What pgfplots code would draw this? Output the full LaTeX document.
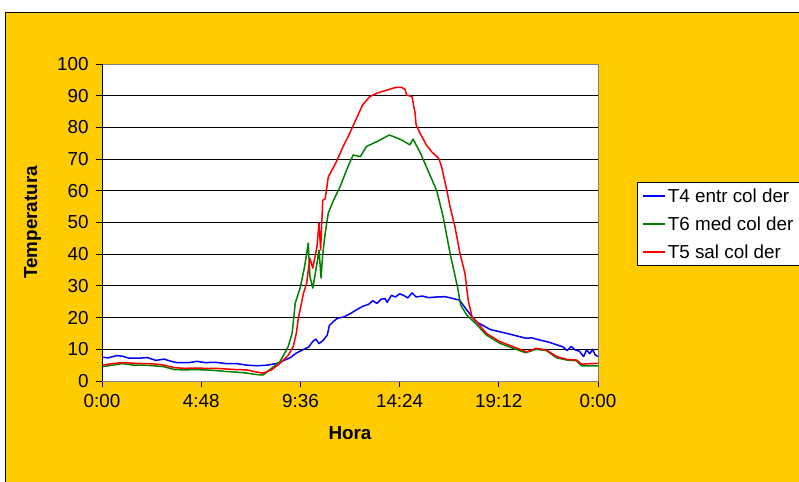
\documentclass[border=0pt]{standalone}
\usepackage{fontspec}
\setmainfont{Liberation Sans}
\usepackage{pgfplots}
\pgfplotsset{compat=1.18}
\definecolor{bgor}{RGB}{255,204,0}
\definecolor{xlblue}{RGB}{0,0,255}
\definecolor{xlgreen}{RGB}{0,128,0}
\definecolor{xlred}{RGB}{255,0,0}
\begin{document}
\begin{tikzpicture}[x=1bp,y=1bp]
\clip (0,0) rectangle (799,482);
\fill[white] (0,0) rectangle (799,482);
\fill[bgor] (5.5,0) rectangle (799,469.5);
\draw[black,line width=1.2bp] (5.5,-2) -- (5.5,469.5) -- (801,469.5);
\begin{axis}[
  at={(102bp,101bp)}, anchor=south west,
  width=496bp, height=317bp, scale only axis,
  xmin=0, xmax=24, ymin=0, ymax=100,
  xtick={0,4.8,9.6,14.4,19.2,24},
  xticklabels={0:00,4:48,9:36,14:24,19:12,0:00},
  ytick={0,10,...,100},
  yticklabel={\pgfmathprintnumber[assume math mode=true]{\tick}},
  tick align=outside, tick pos=left,
  major tick length=6bp,
  every tick/.style={black,line width=0.8bp},
  ymajorgrids, major grid style={black,line width=0.9bp},
  axis line style={draw=gray,line width=0.9bp},
  axis background/.style={fill=white},
  /pgf/number format/assume math mode=true,
  tick label style={font=\fontsize{18.9}{22}\selectfont},
  xticklabel style={yshift=-4bp},
  yticklabel style={xshift=-4bp},
  xlabel={Hora}, ylabel={Temperatura},
  every axis x label/.style={at={(axis description cs:0.5,-0.164)},anchor=center,font=\fontsize{18.9}{22}\selectfont\bfseries},
  every axis y label/.style={at={(axis description cs:-0.140,0.5)},rotate=90,anchor=center,font=\fontsize{18.9}{22}\selectfont\bfseries},
  legend style={at={(axis description cs:1.0786,0.6278)}, anchor=north west,
    draw=black, line width=0.8bp, fill=white, font=\fontsize{18.9}{22}\selectfont,
    inner xsep=5bp, inner ysep=4bp, row sep=9bp},
  legend cell align=left,
  legend image code/.code={\draw[#1,line width=1.5bp] (0bp,0bp) -- (22bp,0bp);},
  every axis plot/.append style={line width=1.5bp, line join=round},
]
\addplot[xlblue] coordinates {
(0,7.5)(0.3,7.3)(0.7,8.0)(1.0,7.8)(1.3,7.2)(1.8,7.2)(2.2,7.4)(2.6,6.5)(3.0,6.9)(3.3,6.3)
(3.6,5.8)(4.2,5.8)(4.6,6.2)(5.0,5.8)(5.5,5.9)(6.0,5.5)(6.5,5.5)(7.0,5.0)(7.5,4.8)(8.0,5.0)
(8.5,5.6)(8.8,6.5)(9.1,7.3)(9.4,8.8)(9.7,9.8)(10.0,10.7)(10.2,12.5)(10.35,13.2)(10.5,11.8)(10.7,12.8)
(10.9,14.5)(11.0,17.5)(11.2,18.8)(11.4,19.8)(11.7,20.2)(12.0,21.2)(12.3,22.4)(12.6,23.5)(12.9,24.2)(13.1,25.3)
(13.3,24.5)(13.5,25.8)(13.7,26.0)(13.8,24.8)(14.0,27.0)(14.2,26.5)(14.4,27.5)(14.6,27.0)(14.8,26.2)(15.0,27.8)
(15.2,26.5)(15.5,26.8)(15.8,26.3)(16.2,26.5)(16.6,26.6)(17.0,26.0)(17.3,25.5)(17.65,22.4)(18.1,18.7)(18.8,16.2)
(19.6,15.0)(20.2,14.0)(20.5,13.5)(20.8,13.6)(21.2,12.9)(21.6,12.3)(22.0,11.4)(22.3,10.8)(22.5,9.6)(22.7,10.9)
(22.9,9.8)(23.1,9.4)(23.3,7.7)(23.45,9.8)(23.6,8.6)(23.75,10.0)(23.85,8.3)(24.0,7.7)
};
\addlegendentry{T4 entr col der}
\addplot[xlgreen] coordinates {
(0,4.5)(0.5,5.0)(1.0,5.5)(1.5,5.0)(2.0,5.0)(2.5,4.8)(3.0,4.5)(3.5,3.6)(4.0,3.5)(4.5,3.6)
(5.0,3.5)(5.5,3.3)(6.0,3.0)(6.5,2.8)(7.0,2.5)(7.5,2.0)(7.8,1.9)(8.1,3.5)(8.6,6.0)(9.0,10.7)
(9.2,15.0)(9.35,24.5)(9.6,29.7)(9.8,36.0)(9.98,43.5)(10.06,33.0)(10.2,29.3)(10.4,37.0)(10.5,41.3)(10.6,32.5)
(10.68,40.0)(10.8,46.6)(10.95,53.0)(11.2,57.0)(11.5,61.0)(11.9,67.6)(12.15,71.3)(12.5,70.8)(12.8,74.0)(13.3,75.5)
(13.9,77.6)(14.3,76.6)(14.5,76.0)(14.9,74.5)(15.05,76.3)(15.4,72.0)(15.9,64.5)(16.2,60.0)(16.5,52.0)(16.85,40.0)
(17.2,29.7)(17.35,24.0)(17.65,20.8)(18.1,18.0)(18.6,14.5)(19.25,11.9)(19.9,10.3)(20.5,8.9)(21.0,10.0)(21.5,9.6)
(22.0,7.3)(22.5,6.6)(22.95,6.4)(23.2,4.8)(24.0,4.8)
};
\addlegendentry{T6 med col der}
\addplot[xlred] coordinates {
(0,5.0)(0.5,5.5)(1.0,5.8)(1.5,5.6)(2.0,5.5)(2.5,5.4)(3.0,5.0)(3.5,4.2)(4.0,4.0)(4.5,4.1)
(5.0,4.0)(5.5,4.0)(6.0,3.8)(6.5,3.6)(7.0,3.5)(7.5,2.8)(7.8,2.5)(8.2,3.5)(8.6,5.5)(9.0,8.0)
(9.25,10.8)(9.4,15.0)(9.5,19.8)(9.75,27.7)(9.9,30.8)(10.06,38.7)(10.2,35.6)(10.4,42.3)(10.5,49.8)(10.58,41.3)
(10.68,57.0)(10.8,57.5)(10.95,64.4)(11.3,68.6)(11.67,74.0)(11.9,77.0)(12.2,81.2)(12.6,87.0)(12.96,89.7)(13.3,90.8)
(13.8,91.8)(14.2,92.6)(14.5,92.6)(14.66,92.0)(14.74,90.2)(15.0,89.7)(15.15,84.4)(15.2,80.7)(15.4,78.0)(15.7,74.4)
(15.95,72.3)(16.3,70.2)(16.43,67.6)(16.68,60.3)(16.84,55.0)(17.08,48.6)(17.32,40.3)(17.56,34.0)(17.72,25.5)(17.9,20.3)
(18.13,18.7)(18.6,15.0)(19.26,12.4)(19.9,10.8)(20.55,9.2)(21.0,10.3)(21.5,9.8)(22.0,7.7)(22.5,6.8)(22.97,6.6)
(23.2,5.3)(24.0,5.6)
};
\addlegendentry{T5 sal col der}
\draw[black,line width=0.9bp] (rel axis cs:0,1) -- (rel axis cs:0,0) -- (rel axis cs:1,0);
\end{axis}
\end{tikzpicture}
\end{document}
